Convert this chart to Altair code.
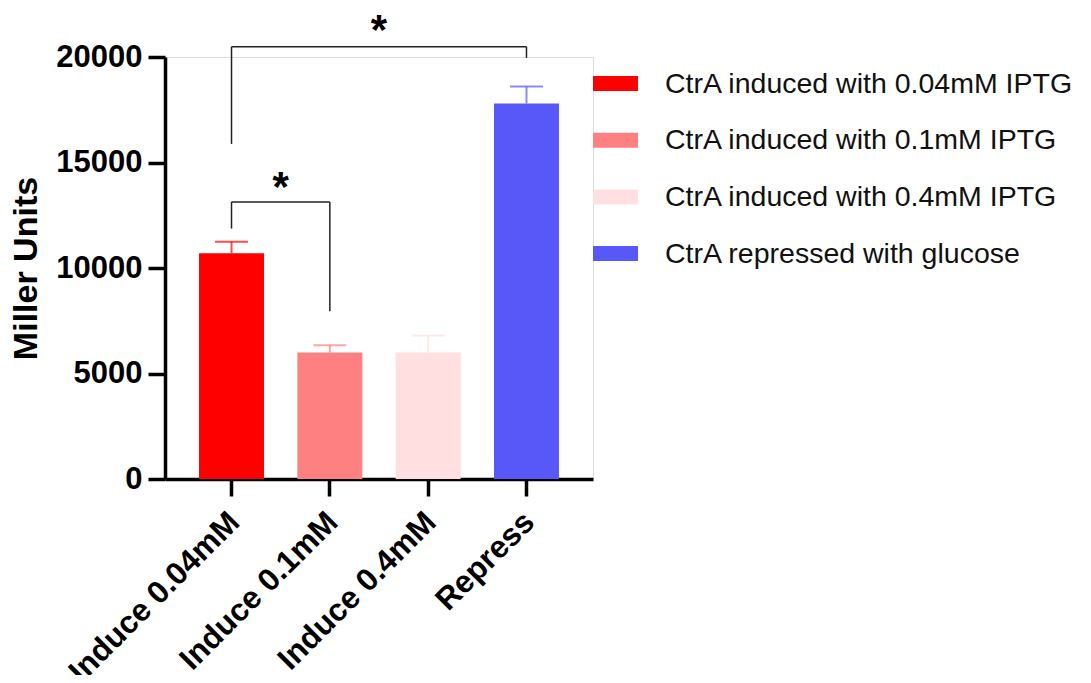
import altair as alt
import pandas as pd

# ---- data ----
categories = ["Induce 0.04mM", "Induce 0.1mM", "Induce 0.4mM", "Repress"]
series = [
    "CtrA induced with 0.04mM IPTG",
    "CtrA induced with 0.1mM IPTG",
    "CtrA induced with 0.4mM IPTG",
    "CtrA repressed with glucose",
]
means = [10700, 6000, 6000, 17800]
upper = [11250, 6340, 6800, 18600]
colors = ["#FF0000", "#FF8080", "#FFDFE0", "#5858F8"]
y_ticks = [0, 5000, 10000, 15000, 20000]

# significance brackets
br_left = ["Induce 0.04mM", "Induce 0.04mM"]
br_right = ["Induce 0.1mM", "Repress"]
br_top = [13130, 20490]
br_left_bottom = [11870, 15880]
br_right_bottom = [7950, 19960]
star_anchor = ["Induce 0.04mM", "Induce 0.1mM"]
star_y = [13175, 20616]
star_text = ["*", "*"]

# ---- layout ----
W, H = 428, 422
PAD_IN, PAD_OUT = 0.339, 0.346
step = W / (len(categories) - PAD_IN + 2 * PAD_OUT)
FONT = "Liberation Sans"

bars_df = pd.DataFrame({"cat": categories, "series": series, "mean": means, "upper": upper})
br_df = pd.DataFrame({"cat": br_left, "right": br_right, "top": br_top,
                      "lb": br_left_bottom, "rb": br_right_bottom})
star_df = pd.DataFrame({"cat": star_anchor, "y": star_y, "t": star_text})

xscale = alt.Scale(domain=categories, paddingInner=PAD_IN, paddingOuter=PAD_OUT)
yscale = alt.Scale(domain=[0, 20000], nice=False)
cscale = alt.Scale(domain=series, range=colors)

x_axis = alt.Axis(
    title=None, labelAngle=-45, labelFont=FONT, labelFontSize=31.5, labelFontWeight="bold",
    labelColor="black", domainColor="black", domainWidth=3.5, tickColor="black",
    tickWidth=3.5, tickSize=17, labelPadding=10, labelLimit=0, labelOffset=-8,
)
y_axis = alt.Axis(
    title="Miller Units", values=y_ticks, format="d", grid=False, labelFont=FONT,
    labelFontSize=31, labelFontWeight="bold", labelColor="black", domainColor="black",
    domainWidth=3.5, tickColor="black", tickWidth=3.5, tickSize=17, labelPadding=6,
    titleFont=FONT, titleFontSize=34, titleFontWeight="bold", titleColor="black",
    titlePadding=12,
)

legend = alt.Legend(
    title=None, orient="none", legendX=428, legendY=4, direction="vertical",
    symbolType="M-1,-0.333H1V0.333H-1Z", symbolSize=2025, symbolStrokeWidth=0,
    symbolOpacity=1, labelFont=FONT, labelFontSize=28.5, labelColor="#111111",
    labelOffset=27, rowPadding=19.7, labelLimit=600,
)

base_x = alt.X("cat:N", sort=categories, scale=xscale, axis=x_axis)

bars = alt.Chart(bars_df).mark_bar().encode(
    x=base_x,
    y=alt.Y("mean:Q", scale=yscale, axis=y_axis),
    color=alt.Color("series:N", scale=cscale, sort=series, legend=legend),
)

err_rule = alt.Chart(bars_df).mark_rule(strokeWidth=2, opacity=0.7).encode(
    x=base_x,
    y=alt.Y("mean:Q", scale=yscale),
    y2="upper:Q",
    color=alt.Color("series:N", scale=cscale, legend=None),
)
err_cap = alt.Chart(bars_df).mark_tick(thickness=2, size=33, opacity=0.7).encode(
    x=base_x,
    y=alt.Y("upper:Q", scale=yscale),
    color=alt.Color("series:N", scale=cscale, legend=None),
)

br_h = alt.Chart(br_df).mark_rule(color="#222222", strokeWidth=1.5).encode(
    x=base_x, x2="right:N", y=alt.Y("top:Q", scale=yscale),
)
br_l = alt.Chart(br_df).mark_rule(color="#222222", strokeWidth=1.5).encode(
    x=base_x, y=alt.Y("top:Q", scale=yscale), y2="lb:Q",
)
br_r = alt.Chart(br_df).mark_rule(color="#222222", strokeWidth=1.5).encode(
    x=alt.X("right:N", sort=categories, scale=xscale, axis=x_axis),
    y=alt.Y("top:Q", scale=yscale), y2="rb:Q",
)
stars = alt.Chart(star_df).mark_text(
    font=FONT, fontSize=42, fontWeight="bold", color="black", dx=step / 2,
    baseline="alphabetic", align="center",
).encode(
    x=base_x, y=alt.Y("y:Q", scale=yscale), text="t:N",
)

chart = alt.layer(bars, err_rule, err_cap, br_h, br_l, br_r, stars).properties(
    width=W, height=H,
    autosize=alt.AutoSizeParams(type="none"),
    padding={"left": 157, "top": 49, "right": 490, "bottom": 196},
).configure_view(stroke=None).configure(background="white")

chart.save("out.html", embed_options={"renderer": "svg", "actions": False})
